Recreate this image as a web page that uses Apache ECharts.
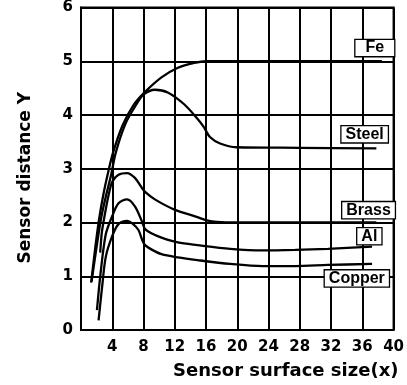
<!DOCTYPE html>
<html>
<head>
<meta charset="utf-8">
<script src="https://cdn.jsdelivr.net/npm/echarts@6/dist/echarts.min.js"></script>
<style>
  html, body { margin: 0; padding: 0; background: #fff; }
  #chart { width: 407px; height: 385px; }
</style>
</head>
<body>
<div id="chart"></div>
<script>
// curve readings, [x, y]
const fe = [[1.3, 0.88], [1.8, 1.5], [2.3, 2.05], [2.9, 2.55], [3.5, 2.95], [4.1, 3.3], [5.3, 3.8], [6.7, 4.18], [8.2, 4.43], [10.3, 4.7], [12.4, 4.88], [14.5, 4.97], [16, 5.0], [20, 5.0], [38.5, 5.0]];
const steel = [[1.35, 0.9], [2.0, 1.55], [2.6, 2.1], [3.2, 2.5], [3.8, 2.85], [4.45, 3.3], [5.7, 3.84], [7.1, 4.2], [8.0, 4.38], [9.45, 4.47], [11.1, 4.42], [13.2, 4.2], [14.9, 3.93], [15.7, 3.78], [16.5, 3.59], [17.8, 3.47], [19.9, 3.4], [28, 3.39], [37.8, 3.38]];
const brass = [[2.46, 1.44], [2.67, 1.82], [3.1, 2.19], [3.5, 2.49], [4.0, 2.76], [4.8, 2.89], [5.9, 2.92], [6.9, 2.83], [7.77, 2.65], [8.2, 2.57], [9.45, 2.43], [11.96, 2.24], [14.9, 2.1], [16.1, 2.04], [17.4, 2.01], [20, 2.0], [37.8, 2.0]];
const al = [[2.04, 0.37], [2.5, 1.05], [3.17, 1.78], [4.0, 2.12], [4.8, 2.36], [5.9, 2.43], [6.9, 2.3], [7.77, 2.03], [8.2, 1.88], [9.0, 1.8], [10.3, 1.72], [12.4, 1.63], [14.9, 1.58], [19.1, 1.51], [23.25, 1.48], [27.4, 1.49], [31.6, 1.51], [37.25, 1.55]];
const copper = [[2.25, 0.18], [2.7, 0.8], [3.17, 1.36], [4.0, 1.75], [4.8, 1.97], [5.9, 2.03], [6.6, 1.98], [7.35, 1.86], [7.85, 1.67], [8.2, 1.58], [9.0, 1.5], [10.3, 1.41], [12.4, 1.35], [14.9, 1.3], [19.1, 1.23], [23.25, 1.19], [27.4, 1.19], [31.6, 1.21], [37.25, 1.23]];

const names = ['Fe', 'Steel', 'Brass', 'Al', 'Copper'];
const tagX = [37.6, 36.3, 36.8, 36.9, 35.3];
const tagY = [5.245, 3.64, 2.23, 1.745, 0.96];

const xTicks = [4, 8, 12, 16, 20, 24, 28, 32, 36, 40];
const yTicks = [0, 1, 2, 3, 4, 5, 6];

const font = 'DejaVu Sans';
let chart = echarts.init(document.getElementById('chart'));

const curves = [fe, steel, brass, al, copper];
let series = curves.map((d, i) => ({
  name: names[i],
  type: 'line',
  data: d,
  smooth: 0.3,
  symbol: 'none',
  lineStyle: { color: '#000', width: 2.3 },
  z: 3,
  markPoint: {
    symbol: 'rect',
    symbolSize: 0,
    data: [{ coord: [tagX[i], tagY[i]], value: names[i] }],
    label: {
      show: true,
      position: 'inside',
      formatter: names[i],
      fontFamily: 'Liberation Sans',
      fontWeight: 'bold',
      fontSize: 16,
      lineHeight: 15,
      color: '#000',
      backgroundColor: '#fff',
      borderColor: '#000',
      borderWidth: 1.3,
      padding: i === 0 ? [1, 10, 0, 10] : [1, 4, 0, 4]
    }
  }
}));

chart.setOption({
  animation: false,
  grid: {
    left: 81,
    right: 7,
    top: 6,
    bottom: 53,
    show: true,
    borderColor: '#000',
    borderWidth: 2
  },
  xAxis: {
    type: 'value',
    min: 0,
    max: 40,
    interval: 4,
    name: 'Sensor surface size(x)',
    nameLocation: 'middle',
    nameGap: 32,
    nameTextStyle: {
      fontFamily: font,
      fontWeight: 'bold',
      fontSize: 18,
      color: '#000',
      padding: [0, 0, 0, 97]
    },
    axisLine: { lineStyle: { color: '#000', width: 2 } },
    axisTick: { show: false },
    axisLabel: {
      margin: 10,
      fontFamily: font,
      fontWeight: 'bold',
      fontSize: 15,
      color: '#000',
      formatter: v => (xTicks.includes(v) ? String(v) : '')
    },
    splitLine: { show: true, lineStyle: { color: '#000', width: 2 } }
  },
  yAxis: {
    type: 'value',
    min: 0,
    max: 6,
    interval: 1,
    name: 'Sensor distance Y',
    nameLocation: 'middle',
    nameGap: 47,
    nameTextStyle: {
      fontFamily: font,
      fontWeight: 'bold',
      fontSize: 17,
      color: '#000',
      padding: [0, 18, 0, 0]
    },
    axisLine: { show: true, lineStyle: { color: '#000', width: 2 } },
    axisTick: { show: false },
    axisLabel: {
      margin: 8,
      fontFamily: font,
      fontWeight: 'bold',
      fontSize: 15,
      color: '#000',
      formatter: v => (yTicks.includes(v) ? String(v) : '')
    },
    splitLine: { show: true, lineStyle: { color: '#000', width: 2 } }
  },
  series: series
});
</script>
</body>
</html>
